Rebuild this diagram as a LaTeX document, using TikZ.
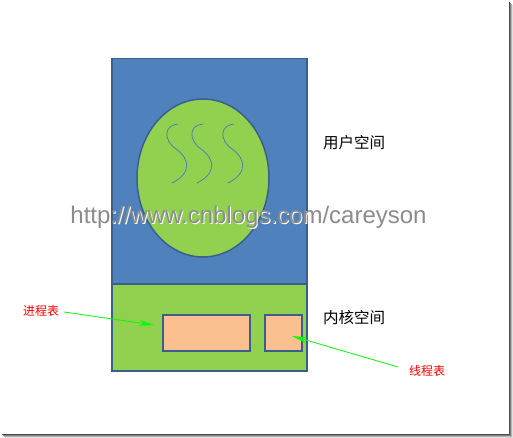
\documentclass[tikz,border=0pt]{standalone}
\usepackage{fontspec}
\setmainfont{Liberation Sans}
\newfontfamily\cjk{Noto Sans CJK SC}
\usetikzlibrary{shapes.geometric,arrows.meta}
\definecolor{userblue}{HTML}{4F81BD}
\definecolor{edgeblue}{HTML}{3A5F8F}
\definecolor{kernelgreen}{HTML}{92D050}
\definecolor{tablepeach}{HTML}{FAC090}
\definecolor{wavecol}{HTML}{4A78C0}
\tikzstyle{every node}=[inner sep=0pt]
\tikzstyle{spacebox}=[draw=edgeblue,line width=1.5pt,anchor=north west]
\tikzstyle{tablebox}=[draw=edgeblue,line width=1.5pt,fill=tablepeach,anchor=north west]
\tikzstyle{spacelabel}=[font=\cjk\fontsize{15.5}{15.5}\selectfont,anchor=west]
\tikzstyle{redlabel}=[font=\cjk\fontsize{12}{12}\selectfont,text=red]
\tikzstyle{pointer}=[draw=green,line width=0.8pt,-{Stealth[length=15pt,width=6pt]}]

\begin{document}
\begin{tikzpicture}[x=1pt,y=-1pt]
          \useasboundingbox (0,0) rectangle (513,438);
          % shadow frame
          \foreach \d/\c in {0/70,1/50,2/30,3/12} {
            \draw[black!\c,line width=1pt] (2+\d,434.5+\d) -- (509.5+\d,434.5+\d) -- (509.5+\d,2+\d);
          }
          % user space
          \node[spacebox,fill=userblue,minimum width=195pt,minimum height=225pt] (user) at (111,58) {};
          \node[draw=edgeblue,line width=1.5pt,fill=kernelgreen,ellipse,
                minimum width=132pt,minimum height=158pt] (proc) at (203,178) {};
          \foreach \dx in {0,25,56} {
            \draw[wavecol,line width=0.7pt] (178+\dx,124) .. controls (164+\dx,125) and (163+\dx,140) .. (176+\dx,149)
                  .. controls (190+\dx,159) and (192+\dx,173) .. (172+\dx,183);
          }
          % kernel space
          \node[spacebox,fill=kernelgreen,minimum width=195pt,minimum height=87pt] (kernel) at (111,283) {};
          \node[tablebox,minimum width=87pt,minimum height=36pt] (ptable) at (162,314) {};
          \node[tablebox,minimum width=37pt,minimum height=36pt] (ttable) at (264,314) {};
          \node[spacelabel] (userlbl) at (323,143) {用户空间};
          \node[spacelabel] (kernlbl) at (323,318) {内核空间};
          % pointers
          \node[redlabel] (plbl) at (41,311) {进程表};
          \node[redlabel] (tlbl) at (427,371) {线程表};
          \coordinate (ptip) at (154,325);
          \coordinate (ttip) at (292,336);
          \draw[pointer] (64,312) -- (ptip);
          \draw[pointer] (398,367) -- (ttip);
          % watermark
          \node[text=white,font=\fontsize{24}{24}\selectfont] (mark0) at (249.5,218) {http://www.cnblogs.com/careyson};
          \node[text=black!45,font=\fontsize{24}{24}\selectfont] (mark) at (248.5,217) {http://www.cnblogs.com/careyson};
\end{tikzpicture}
\end{document}
